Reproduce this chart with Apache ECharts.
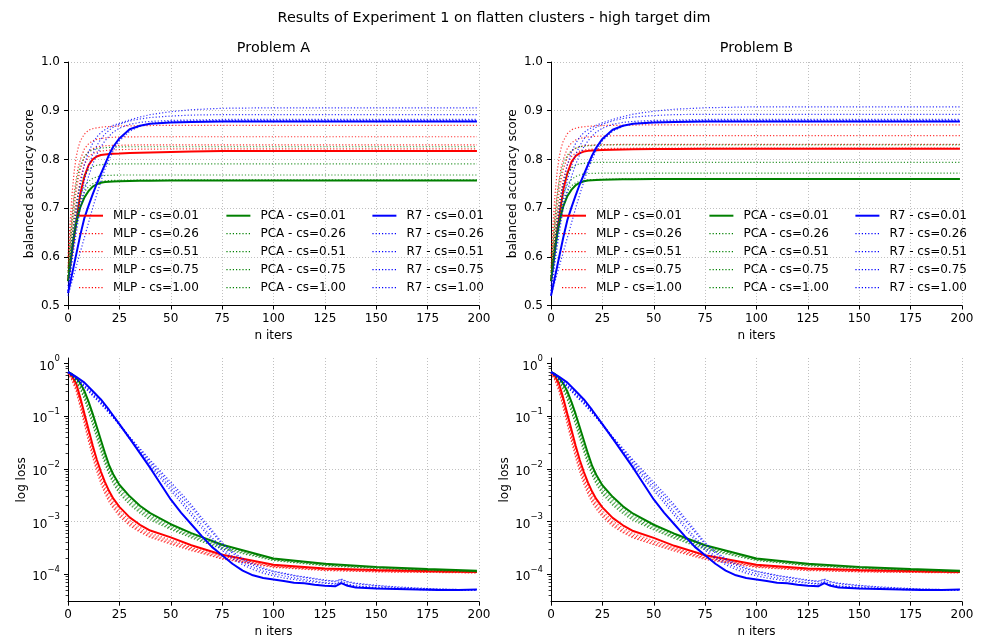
<!DOCTYPE html>
<html><head><meta charset="utf-8">
<script src="https://cdn.jsdelivr.net/npm/echarts@6/dist/echarts.min.js"></script>
<style>html,body{margin:0;padding:0;background:#fff}#c{width:988px;height:638px}</style>
</head><body><div id="c"></div>
<script>
// ---------------- DATA ----------------
const methods = ['MLP', 'PCA', 'R7'];
const csLabels = ['0.01', '0.26', '0.51', '0.75', '1.00'];
const xTicks = [0, 25, 50, 75, 100, 125, 150, 175, 200];
const accTicks = [0.5, 0.6, 0.7, 0.8, 0.9, 1.0];
const lossMajorTicks = [1e-4, 1e-3, 1e-2, 1e-1, 1];
const lossMinorTicks = [3e-5,4e-5,5e-5,6e-5,7e-5,8e-5,9e-5,
  2e-4,3e-4,4e-4,5e-4,6e-4,7e-4,8e-4,9e-4,
  2e-3,3e-3,4e-3,5e-3,6e-3,7e-3,8e-3,9e-3,
  2e-2,3e-2,4e-2,5e-2,6e-2,7e-2,8e-2,9e-2,
  2e-1,3e-1,4e-1,5e-1,6e-1,7e-1,8e-1,9e-1];

// iterations at which the curves were read
const itersAcc = [0,1,2,3,4,5,6,8,10,12,14,16,18,20,22,25,30,35,40,50,60,75,100,150,199];
const itersLoss = [0,2,4,6,8,10,12,14,16,18,20,22,25,30,35,40,50,60,75,100,125,150,175,199];
const itersLossR7 = [0,4,8,12,16,20,25,30,35,40,45,50,55,60,65,70,75,80,85,90,95,100,105,110,115,120,125,130,133,136,140,150,160,170,180,190,199];

// balanced accuracy, Problem A (rows: cs = 0.01, 0.26, 0.51, 0.75, 1.00)
const accA_MLP = [
[0.550,0.580,0.610,0.640,0.670,0.700,0.730,0.765,0.788,0.800,0.806,0.809,0.810,0.811,0.8115,0.812,0.813,0.8135,0.814,0.815,0.816,0.817,0.8175,0.8175,0.8175],
[0.560,0.600,0.640,0.675,0.705,0.735,0.760,0.790,0.805,0.812,0.815,0.817,0.818,0.819,0.8195,0.820,0.8205,0.821,0.821,0.8215,0.8215,0.8217,0.8217,0.8217,0.8217],
[0.570,0.620,0.665,0.700,0.735,0.760,0.780,0.805,0.816,0.822,0.825,0.827,0.828,0.8285,0.829,0.829,0.8295,0.830,0.830,0.830,0.830,0.830,0.830,0.830,0.830],
[0.580,0.640,0.690,0.730,0.760,0.785,0.800,0.822,0.832,0.838,0.841,0.843,0.844,0.845,0.8455,0.846,0.8462,0.8465,0.8465,0.8465,0.8465,0.8465,0.8465,0.8465,0.8465],
[0.600,0.670,0.730,0.775,0.805,0.825,0.838,0.852,0.860,0.863,0.865,0.866,0.867,0.8675,0.868,0.8685,0.869,0.869,0.8695,0.870,0.870,0.870,0.870,0.870,0.870]];
const accA_PCA = [
[0.550,0.580,0.615,0.645,0.668,0.687,0.702,0.722,0.735,0.744,0.749,0.752,0.7535,0.754,0.7545,0.755,0.7555,0.756,0.756,0.7565,0.7565,0.7565,0.7565,0.7565,0.7565],
[0.550,0.590,0.625,0.655,0.680,0.700,0.715,0.733,0.744,0.750,0.753,0.755,0.756,0.7565,0.757,0.7572,0.7575,0.758,0.758,0.758,0.758,0.758,0.758,0.758,0.758],
[0.560,0.600,0.635,0.665,0.690,0.710,0.725,0.745,0.755,0.761,0.764,0.766,0.767,0.7672,0.7675,0.768,0.768,0.768,0.768,0.768,0.768,0.768,0.768,0.768,0.768],
[0.560,0.610,0.650,0.685,0.710,0.730,0.748,0.768,0.779,0.785,0.788,0.789,0.790,0.7905,0.791,0.791,0.791,0.791,0.791,0.791,0.791,0.791,0.791,0.791,0.791],
[0.570,0.630,0.680,0.720,0.750,0.772,0.788,0.806,0.815,0.820,0.822,0.823,0.824,0.8245,0.825,0.8255,0.826,0.826,0.826,0.826,0.826,0.826,0.826,0.826,0.826]];
const accA_R7 = [
[0.525,0.545,0.565,0.585,0.605,0.625,0.645,0.680,0.705,0.728,0.750,0.770,0.790,0.810,0.826,0.843,0.862,0.869,0.873,0.876,0.877,0.878,0.878,0.878,0.878],
[0.520,0.535,0.550,0.565,0.580,0.595,0.610,0.640,0.670,0.700,0.728,0.755,0.780,0.800,0.818,0.838,0.858,0.868,0.874,0.878,0.879,0.880,0.880,0.880,0.880],
[0.530,0.560,0.590,0.620,0.648,0.675,0.700,0.735,0.765,0.790,0.810,0.826,0.838,0.848,0.856,0.864,0.872,0.876,0.878,0.880,0.881,0.882,0.882,0.882,0.882],
[0.530,0.565,0.600,0.635,0.665,0.695,0.720,0.758,0.787,0.810,0.828,0.842,0.852,0.860,0.866,0.872,0.879,0.883,0.886,0.889,0.891,0.892,0.892,0.892,0.892],
[0.540,0.580,0.620,0.660,0.695,0.725,0.750,0.790,0.815,0.833,0.846,0.855,0.861,0.866,0.870,0.874,0.881,0.887,0.892,0.898,0.902,0.905,0.906,0.906,0.906]];

// balanced accuracy, Problem B
const accB_MLP = [
[0.550,0.585,0.620,0.652,0.682,0.710,0.738,0.772,0.795,0.807,0.813,0.816,0.8175,0.8185,0.819,0.8195,0.820,0.8205,0.821,0.8212,0.8215,0.8217,0.8217,0.8217,0.8217],
[0.560,0.600,0.640,0.675,0.705,0.735,0.760,0.790,0.806,0.813,0.817,0.819,0.8205,0.8212,0.8218,0.8222,0.8225,0.8228,0.823,0.823,0.823,0.823,0.823,0.823,0.823],
[0.570,0.620,0.665,0.700,0.735,0.760,0.780,0.805,0.817,0.823,0.826,0.828,0.829,0.8295,0.830,0.830,0.8305,0.831,0.831,0.831,0.831,0.831,0.831,0.831,0.831],
[0.580,0.640,0.690,0.730,0.760,0.785,0.800,0.823,0.834,0.840,0.843,0.845,0.846,0.847,0.8475,0.848,0.8485,0.849,0.849,0.849,0.849,0.849,0.849,0.849,0.849],
[0.600,0.670,0.730,0.775,0.805,0.825,0.838,0.853,0.861,0.864,0.866,0.867,0.868,0.8685,0.869,0.8695,0.870,0.870,0.8705,0.871,0.871,0.871,0.871,0.871,0.871]];
const accB_PCA = [
[0.550,0.580,0.615,0.645,0.668,0.688,0.704,0.725,0.738,0.747,0.752,0.755,0.7565,0.757,0.7575,0.758,0.7585,0.759,0.759,0.7595,0.7597,0.7597,0.7597,0.7597,0.7597],
[0.550,0.590,0.625,0.655,0.680,0.700,0.716,0.735,0.746,0.752,0.755,0.757,0.758,0.7585,0.759,0.7592,0.7595,0.760,0.760,0.760,0.760,0.760,0.760,0.760,0.760],
[0.560,0.600,0.637,0.668,0.693,0.713,0.729,0.749,0.759,0.765,0.768,0.770,0.771,0.7712,0.7715,0.772,0.772,0.772,0.772,0.772,0.772,0.772,0.772,0.772,0.772],
[0.560,0.610,0.652,0.687,0.713,0.733,0.751,0.771,0.782,0.788,0.791,0.792,0.793,0.7935,0.794,0.794,0.794,0.794,0.794,0.794,0.794,0.794,0.794,0.794,0.794],
[0.570,0.630,0.682,0.723,0.753,0.775,0.791,0.809,0.818,0.823,0.826,0.827,0.828,0.8285,0.829,0.8295,0.830,0.830,0.830,0.830,0.830,0.830,0.830,0.830,0.830]];
const accB_R7 = [
[0.520,0.540,0.560,0.580,0.600,0.620,0.640,0.676,0.702,0.726,0.749,0.769,0.789,0.808,0.824,0.842,0.861,0.869,0.873,0.876,0.877,0.878,0.878,0.878,0.878],
[0.520,0.535,0.550,0.565,0.580,0.595,0.610,0.640,0.670,0.700,0.728,0.755,0.780,0.800,0.818,0.838,0.858,0.868,0.874,0.878,0.879,0.880,0.880,0.880,0.880],
[0.530,0.560,0.590,0.620,0.648,0.675,0.700,0.735,0.765,0.790,0.810,0.826,0.838,0.848,0.856,0.864,0.872,0.876,0.878,0.880,0.881,0.882,0.882,0.882,0.882],
[0.530,0.565,0.600,0.635,0.665,0.695,0.720,0.758,0.787,0.810,0.828,0.842,0.852,0.860,0.866,0.872,0.879,0.884,0.887,0.890,0.892,0.8926,0.8926,0.8926,0.8926],
[0.540,0.580,0.620,0.660,0.695,0.725,0.750,0.790,0.815,0.833,0.846,0.855,0.861,0.866,0.870,0.875,0.882,0.888,0.893,0.899,0.903,0.906,0.908,0.908,0.908]];

// log loss, read as log10(loss), Problem A
const lossA_MLP_log10 = [
[-0.155,-0.24,-0.38,-0.65,-0.95,-1.25,-1.55,-1.82,-2.05,-2.25,-2.42,-2.56,-2.72,-2.92,-3.06,-3.17,-3.30,-3.45,-3.63,-3.82,-3.89,-3.92,-3.94,-3.955],
[-0.16,-0.26,-0.41,-0.69,-1.00,-1.31,-1.61,-1.88,-2.11,-2.31,-2.48,-2.62,-2.78,-2.98,-3.11,-3.22,-3.35,-3.49,-3.66,-3.84,-3.90,-3.93,-3.95,-3.96],
[-0.17,-0.28,-0.45,-0.74,-1.05,-1.37,-1.67,-1.94,-2.17,-2.37,-2.54,-2.67,-2.83,-3.02,-3.15,-3.25,-3.38,-3.51,-3.68,-3.85,-3.91,-3.94,-3.955,-3.965],
[-0.18,-0.30,-0.49,-0.79,-1.10,-1.42,-1.72,-1.99,-2.22,-2.42,-2.58,-2.71,-2.86,-3.05,-3.18,-3.28,-3.41,-3.53,-3.70,-3.86,-3.92,-3.95,-3.96,-3.97],
[-0.19,-0.32,-0.53,-0.84,-1.16,-1.48,-1.78,-2.05,-2.28,-2.47,-2.63,-2.75,-2.90,-3.08,-3.20,-3.30,-3.43,-3.55,-3.71,-3.87,-3.93,-3.955,-3.965,-3.975]];
const lossA_PCA_log10 = [
[-0.155,-0.20,-0.27,-0.37,-0.52,-0.72,-0.95,-1.20,-1.45,-1.70,-1.93,-2.10,-2.30,-2.52,-2.70,-2.84,-3.05,-3.22,-3.44,-3.70,-3.80,-3.86,-3.90,-3.935],
[-0.16,-0.21,-0.29,-0.40,-0.56,-0.77,-1.00,-1.26,-1.51,-1.76,-1.98,-2.15,-2.35,-2.57,-2.74,-2.88,-3.08,-3.25,-3.46,-3.71,-3.81,-3.87,-3.91,-3.94],
[-0.165,-0.22,-0.31,-0.43,-0.60,-0.82,-1.06,-1.32,-1.57,-1.82,-2.03,-2.20,-2.40,-2.61,-2.78,-2.91,-3.11,-3.27,-3.48,-3.72,-3.82,-3.875,-3.915,-3.945],
[-0.17,-0.23,-0.33,-0.46,-0.64,-0.87,-1.11,-1.37,-1.62,-1.86,-2.07,-2.24,-2.44,-2.65,-2.81,-2.94,-3.13,-3.29,-3.50,-3.73,-3.83,-3.88,-3.92,-3.95],
[-0.175,-0.24,-0.35,-0.49,-0.68,-0.91,-1.16,-1.42,-1.67,-1.91,-2.11,-2.28,-2.47,-2.68,-2.84,-2.97,-3.15,-3.31,-3.52,-3.74,-3.84,-3.89,-3.925,-3.955]];
const lossA_R7_log10 = [
[-0.155,-0.25,-0.36,-0.52,-0.68,-0.88,-1.15,-1.42,-1.70,-1.98,-2.28,-2.58,-2.83,-3.05,-3.27,-3.48,-3.64,-3.80,-3.93,-4.02,-4.07,-4.10,-4.13,-4.16,-4.17,-4.20,-4.22,-4.23,-4.17,-4.22,-4.25,-4.27,-4.28,-4.29,-4.30,-4.30,-4.29],
[-0.16,-0.27,-0.40,-0.56,-0.72,-0.90,-1.16,-1.42,-1.66,-1.90,-2.13,-2.36,-2.58,-2.82,-3.06,-3.30,-3.50,-3.66,-3.78,-3.87,-3.94,-3.99,-4.03,-4.07,-4.10,-4.13,-4.16,-4.18,-4.13,-4.19,-4.22,-4.25,-4.27,-4.28,-4.29,-4.30,-4.30],
[-0.165,-0.28,-0.42,-0.58,-0.74,-0.92,-1.15,-1.40,-1.63,-1.86,-2.08,-2.30,-2.51,-2.73,-2.97,-3.20,-3.43,-3.60,-3.73,-3.83,-3.90,-3.95,-3.99,-4.03,-4.06,-4.09,-4.12,-4.14,-4.10,-4.15,-4.18,-4.22,-4.25,-4.27,-4.28,-4.29,-4.29],
[-0.17,-0.29,-0.44,-0.60,-0.75,-0.93,-1.17,-1.43,-1.68,-1.93,-2.18,-2.41,-2.64,-2.88,-3.12,-3.35,-3.55,-3.70,-3.82,-3.91,-3.98,-4.03,-4.07,-4.10,-4.13,-4.15,-4.17,-4.19,-4.15,-4.20,-4.23,-4.26,-4.28,-4.29,-4.30,-4.30,-4.30],
[-0.17,-0.30,-0.45,-0.61,-0.77,-0.94,-1.14,-1.39,-1.61,-1.83,-2.04,-2.25,-2.46,-2.68,-2.92,-3.16,-3.40,-3.57,-3.70,-3.80,-3.88,-3.94,-3.98,-4.02,-4.05,-4.08,-4.11,-4.13,-4.09,-4.14,-4.17,-4.21,-4.24,-4.26,-4.28,-4.29,-4.29]];

// log loss, read as log10(loss), Problem B
const lossB_MLP_log10 = [
[-0.155,-0.24,-0.39,-0.66,-0.96,-1.26,-1.56,-1.83,-2.06,-2.26,-2.43,-2.57,-2.73,-2.93,-3.07,-3.18,-3.31,-3.46,-3.64,-3.82,-3.89,-3.92,-3.94,-3.955],
[-0.16,-0.26,-0.42,-0.70,-1.01,-1.32,-1.62,-1.89,-2.12,-2.32,-2.49,-2.63,-2.79,-2.99,-3.12,-3.23,-3.36,-3.50,-3.67,-3.84,-3.90,-3.93,-3.95,-3.96],
[-0.17,-0.28,-0.46,-0.75,-1.06,-1.38,-1.68,-1.95,-2.18,-2.38,-2.55,-2.68,-2.84,-3.03,-3.16,-3.26,-3.39,-3.52,-3.69,-3.85,-3.91,-3.94,-3.955,-3.965],
[-0.18,-0.30,-0.50,-0.80,-1.11,-1.43,-1.73,-2.00,-2.23,-2.43,-2.59,-2.72,-2.87,-3.06,-3.19,-3.29,-3.42,-3.54,-3.70,-3.86,-3.92,-3.95,-3.96,-3.97],
[-0.19,-0.32,-0.54,-0.85,-1.17,-1.49,-1.79,-2.06,-2.29,-2.48,-2.64,-2.76,-2.91,-3.09,-3.21,-3.31,-3.44,-3.56,-3.72,-3.87,-3.93,-3.955,-3.965,-3.975]];
const lossB_PCA_log10 = [
[-0.155,-0.20,-0.27,-0.38,-0.53,-0.73,-0.96,-1.21,-1.46,-1.71,-1.94,-2.11,-2.31,-2.53,-2.71,-2.85,-3.06,-3.23,-3.45,-3.70,-3.80,-3.86,-3.90,-3.935],
[-0.16,-0.21,-0.29,-0.41,-0.57,-0.78,-1.01,-1.27,-1.52,-1.77,-1.99,-2.16,-2.36,-2.58,-2.75,-2.89,-3.09,-3.26,-3.47,-3.71,-3.81,-3.87,-3.91,-3.94],
[-0.165,-0.22,-0.31,-0.44,-0.61,-0.83,-1.07,-1.33,-1.58,-1.83,-2.04,-2.21,-2.41,-2.62,-2.79,-2.92,-3.12,-3.28,-3.49,-3.72,-3.82,-3.875,-3.915,-3.945],
[-0.17,-0.23,-0.33,-0.47,-0.65,-0.88,-1.12,-1.38,-1.63,-1.87,-2.08,-2.25,-2.45,-2.66,-2.82,-2.95,-3.14,-3.30,-3.51,-3.73,-3.83,-3.88,-3.92,-3.95],
[-0.175,-0.24,-0.35,-0.50,-0.69,-0.92,-1.17,-1.43,-1.68,-1.92,-2.12,-2.29,-2.48,-2.69,-2.85,-2.98,-3.16,-3.32,-3.53,-3.74,-3.84,-3.89,-3.925,-3.955]];
const lossB_R7_log10 = [
[-0.155,-0.25,-0.36,-0.52,-0.68,-0.88,-1.15,-1.42,-1.70,-1.98,-2.28,-2.58,-2.83,-3.05,-3.27,-3.48,-3.64,-3.80,-3.93,-4.02,-4.07,-4.10,-4.13,-4.16,-4.17,-4.20,-4.22,-4.23,-4.17,-4.22,-4.25,-4.27,-4.28,-4.29,-4.30,-4.30,-4.29],
[-0.16,-0.27,-0.40,-0.56,-0.72,-0.90,-1.16,-1.42,-1.66,-1.90,-2.13,-2.36,-2.58,-2.82,-3.06,-3.30,-3.50,-3.66,-3.78,-3.87,-3.94,-3.99,-4.03,-4.07,-4.10,-4.13,-4.16,-4.18,-4.13,-4.19,-4.22,-4.25,-4.27,-4.28,-4.29,-4.30,-4.30],
[-0.165,-0.28,-0.42,-0.58,-0.74,-0.92,-1.15,-1.40,-1.63,-1.86,-2.08,-2.30,-2.51,-2.73,-2.97,-3.20,-3.43,-3.60,-3.73,-3.83,-3.90,-3.95,-3.99,-4.03,-4.06,-4.09,-4.12,-4.14,-4.10,-4.15,-4.18,-4.22,-4.25,-4.27,-4.28,-4.29,-4.29],
[-0.17,-0.29,-0.44,-0.60,-0.75,-0.93,-1.17,-1.43,-1.68,-1.93,-2.18,-2.41,-2.64,-2.88,-3.12,-3.35,-3.55,-3.70,-3.82,-3.91,-3.98,-4.03,-4.07,-4.10,-4.13,-4.15,-4.17,-4.19,-4.15,-4.20,-4.23,-4.26,-4.28,-4.29,-4.30,-4.30,-4.30],
[-0.17,-0.30,-0.45,-0.61,-0.77,-0.94,-1.14,-1.39,-1.61,-1.83,-2.04,-2.25,-2.46,-2.68,-2.92,-3.16,-3.40,-3.57,-3.70,-3.80,-3.88,-3.94,-3.98,-4.02,-4.05,-4.08,-4.11,-4.13,-4.09,-4.14,-4.17,-4.21,-4.24,-4.26,-4.28,-4.29,-4.29]];

// ---------------- CHART ----------------
const FONT = 'DejaVu Sans';
const COLORS = {MLP: '#ff0000', PCA: '#008000', R7: '#0000ff'};
const DOT = [1.2, 2];
const gridDefs = [
  {left: 68, top: 62, width: 411, height: 243.5},
  {left: 551, top: 62, width: 411, height: 243.5},
  {left: 68, top: 358, width: 411, height: 243.7},
  {left: 551, top: 358, width: 411, height: 243.7}
];
const LOSS_MIN = 3.01e-5, LOSS_MAX = 1.28;

function seriesName(m, k) { return m + ' - cs=' + csLabels[k]; }

const grid = gridDefs.map(g => Object.assign({outerBoundsMode: 'none', containLabel: false}, g));

const xAxis = gridDefs.map((g, i) => ({
  type: 'value', gridIndex: i, min: 0, max: 200, interval: 25, position: 'bottom',
  name: 'n iters', nameLocation: 'middle', nameGap: 24,
  nameTextStyle: {fontFamily: FONT, fontSize: 12, color: '#000'},
  axisLine: {show: true, onZero: false, lineStyle: {color: '#000', width: 1}},
  axisTick: {show: true, inside: false, length: 4, lineStyle: {color: '#000', width: 1}},
  axisLabel: {show: true, margin: 7, fontFamily: FONT, fontSize: 12, color: '#000'},
  splitLine: {show: true, lineStyle: {color: '#b0b0b0', width: 0.8, type: [1, 2]}}
}));

function supLabel(v) {
  const e = Math.round(Math.log10(v));
  return '{b|10}{s|' + (e < 0 ? '\u2212' + (-e) : String(e)) + '}';
}

const yAxis = [];
[0, 1].forEach(i => yAxis.push({
  type: 'value', gridIndex: i, min: 0.5, max: 1.0, interval: 0.1, position: 'left',
  name: 'balanced accuracy score', nameLocation: 'middle', nameGap: 32,
  nameTextStyle: {fontFamily: FONT, fontSize: 12, color: '#000'},
  axisLine: {show: true, lineStyle: {color: '#000', width: 1}},
  axisTick: {show: true, inside: false, length: 4, lineStyle: {color: '#000', width: 1}},
  axisLabel: {margin: 8, fontFamily: FONT, fontSize: 12, color: '#000', formatter: v => v.toFixed(1)},
  splitLine: {show: true, lineStyle: {color: '#b0b0b0', width: 0.8, type: [1, 2]}}
}));
[2, 3].forEach(i => yAxis.push({
  type: 'log', logBase: 10, gridIndex: i, min: LOSS_MIN, max: LOSS_MAX, position: 'left',
  name: 'log loss', nameLocation: 'middle', nameGap: 40,
  nameTextStyle: {fontFamily: FONT, fontSize: 12, color: '#000'},
  axisLine: {show: true, lineStyle: {color: '#000', width: 1}},
  axisTick: {show: true, inside: false, length: 4, customValues: lossMajorTicks, lineStyle: {color: '#000', width: 1}},
  axisLabel: {margin: 8, customValues: lossMajorTicks, formatter: supLabel, color: '#000',
    rich: {
      b: {fontFamily: FONT, fontSize: 12, color: '#000', lineHeight: 18, verticalAlign: 'bottom'},
      s: {fontFamily: FONT, fontSize: 8.5, color: '#000', lineHeight: 10, verticalAlign: 'top'}
    }},
  splitLine: {show: true, showMinLine: false, showMaxLine: false, lineStyle: {color: '#b0b0b0', width: 0.8, type: [1, 2]}}
}));
// minor tick overlays for the log axes
[2, 3].forEach(i => yAxis.push({
  type: 'log', logBase: 10, gridIndex: i, min: LOSS_MIN, max: LOSS_MAX, position: 'left', offset: 0,
  axisLine: {show: false},
  axisTick: {show: true, inside: false, length: 2.4, customValues: lossMinorTicks, lineStyle: {color: '#000', width: 0.8}},
  axisLabel: {show: false},
  splitLine: {show: false}
}));

const series = [];
function addPanel(gridIdx, iters, tables, isLog) {
  methods.forEach((m, mi) => {
    const tab = tables[mi];
    const xs = Array.isArray(iters[0]) ? iters[mi] : iters;
    tab.forEach((vals, k) => {
      series.push({
        name: seriesName(m, k), type: 'line',
        xAxisIndex: gridIdx, yAxisIndex: gridIdx,
        data: xs.map((x, j) => [x, isLog ? Math.pow(10, vals[j]) : vals[j]]),
        symbol: 'none', showSymbol: false, smooth: false, silent: true,
        color: COLORS[m],
        itemStyle: {color: COLORS[m]},
        emphasis: {disabled: true},
        lineStyle: k === 0
          ? {color: COLORS[m], width: 2, type: 'solid', opacity: 1}
          : {color: COLORS[m], width: 1.2, type: DOT, opacity: 0.8}
      });
    });
  });
}
addPanel(0, itersAcc, [accA_MLP, accA_PCA, accA_R7], false);
addPanel(1, itersAcc, [accB_MLP, accB_PCA, accB_R7], false);
addPanel(2, [itersLoss, itersLoss, itersLossR7], [lossA_MLP_log10, lossA_PCA_log10, lossA_R7_log10], true);
addPanel(3, [itersLoss, itersLoss, itersLossR7], [lossB_MLP_log10, lossB_PCA_log10, lossB_R7_log10], true);

const legend = [];
[68, 551].forEach(gl => {
  [10, 157.4, 303.4].forEach((off, mi) => {
    legend.push({
      orient: 'vertical', left: gl + off, top: 208.7, padding: 0,
      itemWidth: 24, itemHeight: 14, itemGap: 4, selectedMode: false,
      data: csLabels.map((c, k) => seriesName(methods[mi], k)),
      itemStyle: {opacity: 0, borderWidth: 0},
      lineStyle: {width: 'inherit', opacity: 1},
      textStyle: {fontFamily: FONT, fontSize: 12, color: '#000', padding: [0, 0, 0, 5], lineHeight: 14}
    });
  });
});

const title = [
  {text: 'Results of Experiment 1 on flatten clusters - high target dim', left: 494, top: 11, textAlign: 'center', padding: 0,
   textStyle: {fontFamily: FONT, fontSize: 14.4, fontWeight: 'normal', color: '#000'}},
  {text: 'Problem A', left: 273.5, top: 41, textAlign: 'center', padding: 0,
   textStyle: {fontFamily: FONT, fontSize: 14.4, fontWeight: 'normal', color: '#000'}},
  {text: 'Problem B', left: 756.5, top: 41, textAlign: 'center', padding: 0,
   textStyle: {fontFamily: FONT, fontSize: 14.4, fontWeight: 'normal', color: '#000'}}
];

const chart = echarts.init(document.getElementById('c'), null, {renderer: 'canvas', width: 988, height: 638});
chart.setOption({
  backgroundColor: '#ffffff', animation: false,
  title, legend, grid, xAxis, yAxis, series
});
</script></body></html>
